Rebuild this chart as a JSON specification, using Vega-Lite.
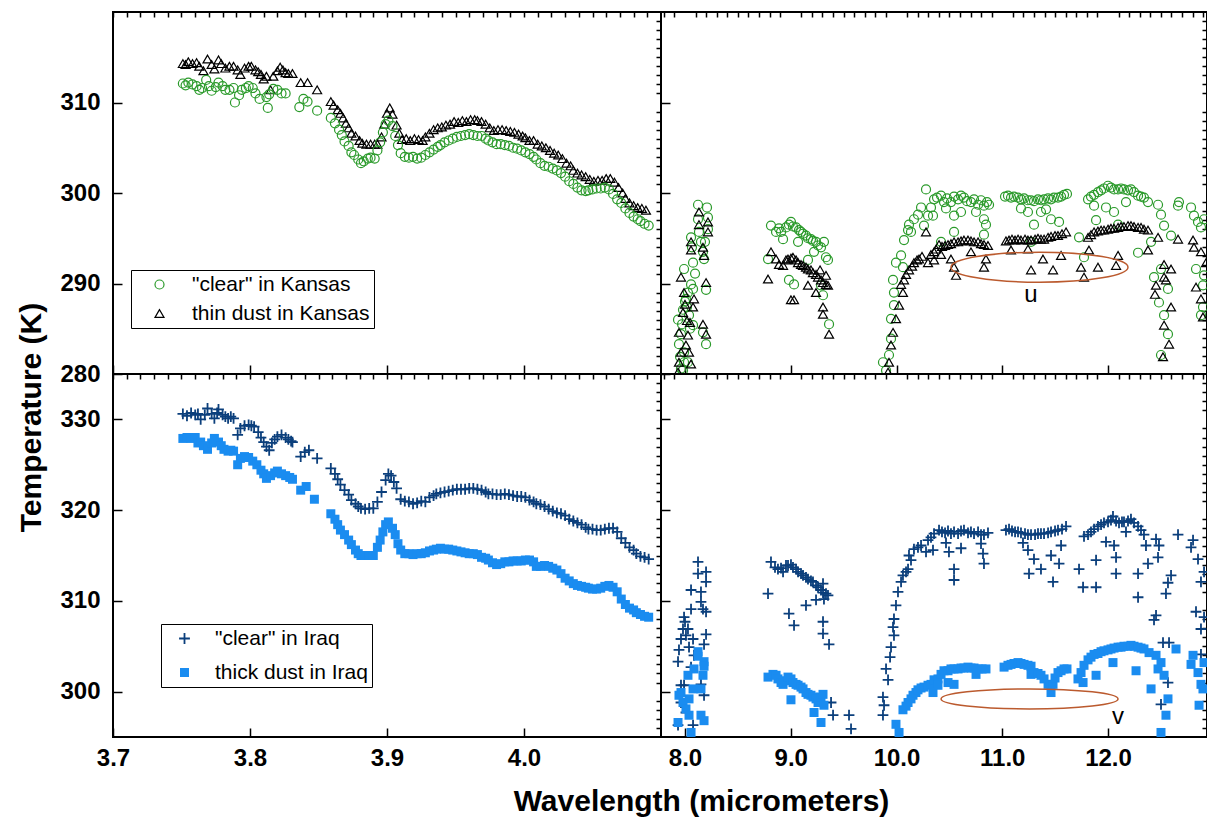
{
"$schema":"https://vega.github.io/schema/vega-lite/v6.json",
"background":"white",
"padding":{"left":15,"top":10,"right":0,"bottom":0},
"config":{
 "view":{"stroke":"#000","strokeWidth":2},
 "font":"Liberation Sans",
 "axis":{"domain":false,"grid":false,"tickColor":"#000","tickWidth":1.5,"labelFont":"Liberation Sans","labelFontSize":24,"labelFontWeight":"bold","labelColor":"#000","labelFlush":false,"labelOverlap":false,"titleFont":"Liberation Sans","titleFontSize":30,"titleFontWeight":"bold","titleColor":"#000"},
 "legend":{"labelFont":"Liberation Sans","labelFontSize":21,"labelColor":"#000","strokeColor":"#000","fillColor":"#fff","padding":4,"labelLimit":400}
},
"datasets":{
"tl":[
{"s":"d","w":3.751,"t":314.3},{"s":"d","w":3.753,"t":314.2},{"s":"d","w":3.755,"t":314.5},{"s":"d","w":3.758,"t":314.3},{"s":"d","w":3.761,"t":314.4},{"s":"d","w":3.763,"t":314.0},{"s":"d","w":3.766,"t":313.5},{"s":"d","w":3.769,"t":314.8},{"s":"d","w":3.772,"t":314.2},{"s":"d","w":3.774,"t":313.7},{"s":"d","w":3.777,"t":314.7},{"s":"d","w":3.779,"t":314.3},{"s":"d","w":3.782,"t":313.8},{"s":"d","w":3.785,"t":314.0},{"s":"d","w":3.788,"t":314.0},{"s":"d","w":3.791,"t":313.6},{"s":"d","w":3.793,"t":313.1},{"s":"d","w":3.796,"t":313.8},{"s":"d","w":3.799,"t":314.0},{"s":"d","w":3.801,"t":314.0},{"s":"d","w":3.804,"t":313.6},{"s":"d","w":3.806,"t":313.4},{"s":"d","w":3.808,"t":313.1},{"s":"d","w":3.810,"t":312.6},{"s":"d","w":3.812,"t":312.9},{"s":"d","w":3.815,"t":311.4},{"s":"d","w":3.817,"t":312.9},{"s":"d","w":3.820,"t":313.5},{"s":"d","w":3.822,"t":313.9},{"s":"d","w":3.824,"t":313.6},{"s":"d","w":3.826,"t":313.3},{"s":"d","w":3.828,"t":313.2},{"s":"d","w":3.831,"t":313.2},{"s":"d","w":3.837,"t":312.2},{"s":"d","w":3.842,"t":312.2},{"s":"d","w":3.849,"t":311.4},{"s":"d","w":3.859,"t":310.1},{"s":"d","w":3.861,"t":309.7},{"s":"d","w":3.864,"t":309.2},{"s":"d","w":3.866,"t":308.8},{"s":"d","w":3.868,"t":308.3},{"s":"d","w":3.870,"t":307.7},{"s":"d","w":3.872,"t":307.2},{"s":"d","w":3.874,"t":306.6},{"s":"d","w":3.877,"t":306.3},{"s":"d","w":3.880,"t":305.8},{"s":"d","w":3.882,"t":305.5},{"s":"d","w":3.885,"t":305.4},{"s":"d","w":3.888,"t":305.4},{"s":"d","w":3.891,"t":305.4},{"s":"d","w":3.893,"t":305.4},{"s":"d","w":3.896,"t":306.2},{"s":"d","w":3.898,"t":307.6},{"s":"d","w":3.900,"t":308.8},{"s":"d","w":3.902,"t":309.4},{"s":"d","w":3.904,"t":308.7},{"s":"d","w":3.907,"t":307.5},{"s":"d","w":3.909,"t":306.6},{"s":"d","w":3.911,"t":305.9},{"s":"d","w":3.914,"t":306.0},{"s":"d","w":3.917,"t":305.8},{"s":"d","w":3.920,"t":306.0},{"s":"d","w":3.923,"t":305.9},{"s":"d","w":3.926,"t":305.8},{"s":"d","w":3.928,"t":306.2},{"s":"d","w":3.931,"t":306.6},{"s":"d","w":3.934,"t":307.0},{"s":"d","w":3.937,"t":307.2},{"s":"d","w":3.940,"t":307.3},{"s":"d","w":3.943,"t":307.5},{"s":"d","w":3.946,"t":307.6},{"s":"d","w":3.949,"t":307.9},{"s":"d","w":3.952,"t":307.8},{"s":"d","w":3.955,"t":308.0},{"s":"d","w":3.958,"t":307.9},{"s":"d","w":3.961,"t":308.1},{"s":"d","w":3.964,"t":308.1},{"s":"d","w":3.966,"t":308.0},{"s":"d","w":3.969,"t":307.9},{"s":"d","w":3.972,"t":307.6},{"s":"d","w":3.975,"t":307.2},{"s":"d","w":3.978,"t":306.9},{"s":"d","w":3.981,"t":307.0},{"s":"d","w":3.984,"t":307.0},{"s":"d","w":3.987,"t":306.9},{"s":"d","w":3.990,"t":306.8},{"s":"d","w":3.993,"t":306.7},{"s":"d","w":3.996,"t":306.5},{"s":"d","w":3.999,"t":306.3},{"s":"d","w":4.001,"t":306.1},{"s":"d","w":4.004,"t":305.8},{"s":"d","w":4.007,"t":305.8},{"s":"d","w":4.010,"t":305.4},{"s":"d","w":4.013,"t":305.2},{"s":"d","w":4.016,"t":305.0},{"s":"d","w":4.019,"t":304.7},{"s":"d","w":4.022,"t":304.4},{"s":"d","w":4.025,"t":304.2},{"s":"d","w":4.028,"t":303.8},{"s":"d","w":4.031,"t":303.3},{"s":"d","w":4.034,"t":303.0},{"s":"d","w":4.036,"t":302.5},{"s":"d","w":4.039,"t":302.2},{"s":"d","w":4.042,"t":302.0},{"s":"d","w":4.045,"t":301.8},{"s":"d","w":4.048,"t":301.5},{"s":"d","w":4.051,"t":301.3},{"s":"d","w":4.054,"t":301.4},{"s":"d","w":4.057,"t":301.4},{"s":"d","w":4.060,"t":301.6},{"s":"d","w":4.063,"t":301.6},{"s":"d","w":4.066,"t":301.2},{"s":"d","w":4.069,"t":300.6},{"s":"d","w":4.072,"t":300.0},{"s":"d","w":4.074,"t":299.4},{"s":"d","w":4.077,"t":298.9},{"s":"d","w":4.080,"t":298.6},{"s":"d","w":4.083,"t":298.4},{"s":"d","w":4.086,"t":298.3},{"s":"d","w":4.089,"t":298.1},
{"s":"c","w":3.751,"t":312.1},{"s":"c","w":3.753,"t":311.9},{"s":"c","w":3.755,"t":312.2},{"s":"c","w":3.758,"t":312.0},{"s":"c","w":3.761,"t":311.8},{"s":"c","w":3.763,"t":311.4},{"s":"c","w":3.765,"t":311.6},{"s":"c","w":3.768,"t":312.5},{"s":"c","w":3.770,"t":311.8},{"s":"c","w":3.772,"t":311.3},{"s":"c","w":3.775,"t":311.7},{"s":"c","w":3.777,"t":312.2},{"s":"c","w":3.780,"t":311.8},{"s":"c","w":3.782,"t":311.4},{"s":"c","w":3.785,"t":311.4},{"s":"c","w":3.788,"t":311.6},{"s":"c","w":3.789,"t":310.0},{"s":"c","w":3.792,"t":310.8},{"s":"c","w":3.794,"t":311.4},{"s":"c","w":3.797,"t":311.6},{"s":"c","w":3.799,"t":311.8},{"s":"c","w":3.802,"t":311.6},{"s":"c","w":3.804,"t":311.0},{"s":"c","w":3.807,"t":310.4},{"s":"c","w":3.813,"t":309.4},{"s":"c","w":3.812,"t":310.6},{"s":"c","w":3.814,"t":310.9},{"s":"c","w":3.817,"t":311.5},{"s":"c","w":3.820,"t":311.4},{"s":"c","w":3.823,"t":311.0},{"s":"c","w":3.826,"t":311.0},{"s":"c","w":3.836,"t":309.5},{"s":"c","w":3.839,"t":310.4},{"s":"c","w":3.842,"t":310.1},{"s":"c","w":3.849,"t":309.1},{"s":"c","w":3.859,"t":308.3},{"s":"c","w":3.862,"t":307.7},{"s":"c","w":3.865,"t":307.0},{"s":"c","w":3.867,"t":306.4},{"s":"c","w":3.869,"t":305.7},{"s":"c","w":3.872,"t":305.2},{"s":"c","w":3.874,"t":304.5},{"s":"c","w":3.876,"t":304.2},{"s":"c","w":3.879,"t":303.7},{"s":"c","w":3.881,"t":303.3},{"s":"c","w":3.883,"t":303.5},{"s":"c","w":3.886,"t":303.8},{"s":"c","w":3.888,"t":303.9},{"s":"c","w":3.891,"t":303.8},{"s":"c","w":3.893,"t":304.7},{"s":"c","w":3.895,"t":305.6},{"s":"c","w":3.897,"t":306.7},{"s":"c","w":3.899,"t":307.6},{"s":"c","w":3.901,"t":308.0},{"s":"c","w":3.904,"t":307.4},{"s":"c","w":3.906,"t":306.3},{"s":"c","w":3.908,"t":305.3},{"s":"c","w":3.910,"t":304.4},{"s":"c","w":3.913,"t":304.0},{"s":"c","w":3.916,"t":303.9},{"s":"c","w":3.919,"t":304.0},{"s":"c","w":3.922,"t":303.8},{"s":"c","w":3.925,"t":303.9},{"s":"c","w":3.928,"t":304.2},{"s":"c","w":3.931,"t":304.5},{"s":"c","w":3.934,"t":304.8},{"s":"c","w":3.937,"t":305.1},{"s":"c","w":3.939,"t":305.3},{"s":"c","w":3.942,"t":305.6},{"s":"c","w":3.945,"t":305.8},{"s":"c","w":3.948,"t":306.0},{"s":"c","w":3.951,"t":306.2},{"s":"c","w":3.954,"t":306.3},{"s":"c","w":3.957,"t":306.4},{"s":"c","w":3.960,"t":306.5},{"s":"c","w":3.963,"t":306.4},{"s":"c","w":3.966,"t":306.3},{"s":"c","w":3.969,"t":306.3},{"s":"c","w":3.972,"t":306.0},{"s":"c","w":3.974,"t":305.8},{"s":"c","w":3.977,"t":305.6},{"s":"c","w":3.980,"t":305.4},{"s":"c","w":3.983,"t":305.4},{"s":"c","w":3.986,"t":305.3},{"s":"c","w":3.989,"t":305.2},{"s":"c","w":3.992,"t":305.0},{"s":"c","w":3.995,"t":304.9},{"s":"c","w":3.998,"t":304.7},{"s":"c","w":4.001,"t":304.5},{"s":"c","w":4.004,"t":304.3},{"s":"c","w":4.007,"t":304.0},{"s":"c","w":4.009,"t":303.7},{"s":"c","w":4.012,"t":303.3},{"s":"c","w":4.015,"t":303.0},{"s":"c","w":4.018,"t":302.9},{"s":"c","w":4.021,"t":302.7},{"s":"c","w":4.024,"t":302.5},{"s":"c","w":4.027,"t":302.2},{"s":"c","w":4.030,"t":301.8},{"s":"c","w":4.033,"t":301.3},{"s":"c","w":4.036,"t":301.0},{"s":"c","w":4.039,"t":300.6},{"s":"c","w":4.042,"t":300.3},{"s":"c","w":4.045,"t":300.2},{"s":"c","w":4.047,"t":300.3},{"s":"c","w":4.050,"t":300.4},{"s":"c","w":4.053,"t":300.5},{"s":"c","w":4.056,"t":300.5},{"s":"c","w":4.059,"t":300.6},{"s":"c","w":4.062,"t":300.4},{"s":"c","w":4.065,"t":299.9},{"s":"c","w":4.068,"t":299.3},{"s":"c","w":4.071,"t":298.9},{"s":"c","w":4.074,"t":298.3},{"s":"c","w":4.077,"t":297.8},{"s":"c","w":4.080,"t":297.4},{"s":"c","w":4.083,"t":297.1},{"s":"c","w":4.085,"t":296.9},{"s":"c","w":4.088,"t":296.6},{"s":"c","w":4.091,"t":296.4}
],
"bl":[
{"s":"c","w":3.751,"t":330.6},{"s":"c","w":3.754,"t":330.4},{"s":"c","w":3.757,"t":330.7},{"s":"c","w":3.760,"t":330.5},{"s":"c","w":3.762,"t":330.6},{"s":"c","w":3.764,"t":330.0},{"s":"c","w":3.767,"t":330.5},{"s":"c","w":3.769,"t":331.2},{"s":"c","w":3.772,"t":330.6},{"s":"c","w":3.774,"t":330.1},{"s":"c","w":3.776,"t":330.7},{"s":"c","w":3.777,"t":331.1},{"s":"c","w":3.780,"t":330.5},{"s":"c","w":3.782,"t":330.3},{"s":"c","w":3.784,"t":330.1},{"s":"c","w":3.786,"t":330.3},{"s":"c","w":3.788,"t":330.1},{"s":"c","w":3.791,"t":328.3},{"s":"c","w":3.793,"t":329.0},{"s":"c","w":3.796,"t":329.3},{"s":"c","w":3.799,"t":329.4},{"s":"c","w":3.801,"t":329.3},{"s":"c","w":3.803,"t":329.2},{"s":"c","w":3.806,"t":328.6},{"s":"c","w":3.808,"t":328.0},{"s":"c","w":3.810,"t":327.5},{"s":"c","w":3.812,"t":327.0},{"s":"c","w":3.814,"t":326.6},{"s":"c","w":3.816,"t":327.4},{"s":"c","w":3.818,"t":327.8},{"s":"c","w":3.820,"t":328.1},{"s":"c","w":3.823,"t":328.3},{"s":"c","w":3.826,"t":328.0},{"s":"c","w":3.828,"t":327.8},{"s":"c","w":3.830,"t":327.6},{"s":"c","w":3.831,"t":327.5},{"s":"c","w":3.837,"t":325.9},{"s":"c","w":3.840,"t":326.4},{"s":"c","w":3.843,"t":326.6},{"s":"c","w":3.849,"t":325.7},{"s":"c","w":3.859,"t":324.6},{"s":"c","w":3.862,"t":324.0},{"s":"c","w":3.864,"t":323.4},{"s":"c","w":3.866,"t":322.8},{"s":"c","w":3.869,"t":322.2},{"s":"c","w":3.872,"t":321.7},{"s":"c","w":3.874,"t":321.1},{"s":"c","w":3.877,"t":320.7},{"s":"c","w":3.879,"t":320.4},{"s":"c","w":3.881,"t":320.2},{"s":"c","w":3.884,"t":320.1},{"s":"c","w":3.887,"t":320.2},{"s":"c","w":3.890,"t":320.2},{"s":"c","w":3.893,"t":320.9},{"s":"c","w":3.896,"t":322.0},{"s":"c","w":3.899,"t":323.3},{"s":"c","w":3.901,"t":324.0},{"s":"c","w":3.903,"t":323.8},{"s":"c","w":3.905,"t":323.1},{"s":"c","w":3.907,"t":322.4},{"s":"c","w":3.910,"t":321.2},{"s":"c","w":3.913,"t":321.0},{"s":"c","w":3.916,"t":320.9},{"s":"c","w":3.919,"t":320.7},{"s":"c","w":3.922,"t":320.8},{"s":"c","w":3.925,"t":321.0},{"s":"c","w":3.928,"t":320.9},{"s":"c","w":3.931,"t":321.4},{"s":"c","w":3.934,"t":321.6},{"s":"c","w":3.936,"t":321.8},{"s":"c","w":3.939,"t":321.9},{"s":"c","w":3.942,"t":322.0},{"s":"c","w":3.945,"t":322.1},{"s":"c","w":3.948,"t":322.2},{"s":"c","w":3.951,"t":322.3},{"s":"c","w":3.954,"t":322.3},{"s":"c","w":3.957,"t":322.3},{"s":"c","w":3.960,"t":322.4},{"s":"c","w":3.963,"t":322.4},{"s":"c","w":3.966,"t":322.3},{"s":"c","w":3.969,"t":322.2},{"s":"c","w":3.972,"t":322.0},{"s":"c","w":3.974,"t":321.8},{"s":"c","w":3.977,"t":321.8},{"s":"c","w":3.980,"t":321.7},{"s":"c","w":3.983,"t":321.7},{"s":"c","w":3.986,"t":321.8},{"s":"c","w":3.989,"t":321.7},{"s":"c","w":3.992,"t":321.6},{"s":"c","w":3.995,"t":321.5},{"s":"c","w":3.998,"t":321.5},{"s":"c","w":4.001,"t":321.4},{"s":"c","w":4.004,"t":321.1},{"s":"c","w":4.007,"t":320.9},{"s":"c","w":4.009,"t":320.7},{"s":"c","w":4.012,"t":320.6},{"s":"c","w":4.015,"t":320.4},{"s":"c","w":4.018,"t":320.1},{"s":"c","w":4.021,"t":319.9},{"s":"c","w":4.024,"t":319.7},{"s":"c","w":4.027,"t":319.6},{"s":"c","w":4.030,"t":319.4},{"s":"c","w":4.033,"t":319.0},{"s":"c","w":4.036,"t":318.8},{"s":"c","w":4.039,"t":318.6},{"s":"c","w":4.042,"t":318.4},{"s":"c","w":4.045,"t":318.1},{"s":"c","w":4.047,"t":317.9},{"s":"c","w":4.050,"t":317.9},{"s":"c","w":4.053,"t":317.8},{"s":"c","w":4.056,"t":317.8},{"s":"c","w":4.059,"t":317.9},{"s":"c","w":4.062,"t":318.0},{"s":"c","w":4.065,"t":318.0},{"s":"c","w":4.068,"t":317.6},{"s":"c","w":4.071,"t":316.9},{"s":"c","w":4.074,"t":316.4},{"s":"c","w":4.077,"t":315.9},{"s":"c","w":4.080,"t":315.6},{"s":"c","w":4.082,"t":315.2},{"s":"c","w":4.085,"t":314.9},{"s":"c","w":4.088,"t":314.8},{"s":"c","w":4.091,"t":314.6},
{"s":"d","w":3.751,"t":327.9},{"s":"d","w":3.754,"t":328.0},{"s":"d","w":3.757,"t":327.9},{"s":"d","w":3.760,"t":328.0},{"s":"d","w":3.762,"t":327.4},{"s":"d","w":3.764,"t":327.5},{"s":"d","w":3.766,"t":327.1},{"s":"d","w":3.769,"t":326.7},{"s":"d","w":3.772,"t":327.4},{"s":"d","w":3.774,"t":327.9},{"s":"d","w":3.777,"t":327.5},{"s":"d","w":3.779,"t":327.1},{"s":"d","w":3.781,"t":326.7},{"s":"d","w":3.784,"t":326.5},{"s":"d","w":3.786,"t":326.6},{"s":"d","w":3.788,"t":326.5},{"s":"d","w":3.791,"t":325.0},{"s":"d","w":3.793,"t":325.7},{"s":"d","w":3.796,"t":325.9},{"s":"d","w":3.799,"t":325.8},{"s":"d","w":3.802,"t":325.4},{"s":"d","w":3.805,"t":325.0},{"s":"d","w":3.808,"t":324.4},{"s":"d","w":3.810,"t":324.0},{"s":"d","w":3.812,"t":323.5},{"s":"d","w":3.815,"t":323.8},{"s":"d","w":3.818,"t":324.1},{"s":"d","w":3.820,"t":324.3},{"s":"d","w":3.823,"t":324.0},{"s":"d","w":3.826,"t":323.8},{"s":"d","w":3.829,"t":323.6},{"s":"d","w":3.831,"t":323.4},{"s":"d","w":3.837,"t":322.2},{"s":"d","w":3.841,"t":322.6},{"s":"d","w":3.847,"t":321.2},{"s":"d","w":3.859,"t":319.6},{"s":"d","w":3.862,"t":319.0},{"s":"d","w":3.864,"t":318.4},{"s":"d","w":3.866,"t":317.8},{"s":"d","w":3.869,"t":317.3},{"s":"d","w":3.872,"t":316.7},{"s":"d","w":3.874,"t":316.2},{"s":"d","w":3.877,"t":315.6},{"s":"d","w":3.879,"t":315.2},{"s":"d","w":3.881,"t":315.0},{"s":"d","w":3.884,"t":315.0},{"s":"d","w":3.887,"t":315.0},{"s":"d","w":3.890,"t":315.0},{"s":"d","w":3.893,"t":315.9},{"s":"d","w":3.895,"t":316.7},{"s":"d","w":3.897,"t":317.6},{"s":"d","w":3.899,"t":318.4},{"s":"d","w":3.901,"t":318.7},{"s":"d","w":3.904,"t":318.0},{"s":"d","w":3.906,"t":317.3},{"s":"d","w":3.908,"t":316.3},{"s":"d","w":3.910,"t":315.6},{"s":"d","w":3.913,"t":315.2},{"s":"d","w":3.916,"t":315.2},{"s":"d","w":3.919,"t":315.1},{"s":"d","w":3.922,"t":315.2},{"s":"d","w":3.925,"t":315.2},{"s":"d","w":3.928,"t":315.3},{"s":"d","w":3.931,"t":315.5},{"s":"d","w":3.934,"t":315.6},{"s":"d","w":3.936,"t":315.7},{"s":"d","w":3.939,"t":315.8},{"s":"d","w":3.942,"t":315.7},{"s":"d","w":3.945,"t":315.7},{"s":"d","w":3.948,"t":315.6},{"s":"d","w":3.951,"t":315.5},{"s":"d","w":3.954,"t":315.4},{"s":"d","w":3.957,"t":315.3},{"s":"d","w":3.960,"t":315.2},{"s":"d","w":3.963,"t":315.2},{"s":"d","w":3.966,"t":315.1},{"s":"d","w":3.969,"t":314.8},{"s":"d","w":3.972,"t":314.7},{"s":"d","w":3.974,"t":314.5},{"s":"d","w":3.977,"t":314.2},{"s":"d","w":3.980,"t":314.0},{"s":"d","w":3.983,"t":314.1},{"s":"d","w":3.986,"t":314.3},{"s":"d","w":3.989,"t":314.3},{"s":"d","w":3.992,"t":314.4},{"s":"d","w":3.995,"t":314.4},{"s":"d","w":3.998,"t":314.4},{"s":"d","w":4.001,"t":314.5},{"s":"d","w":4.004,"t":314.5},{"s":"d","w":4.007,"t":314.3},{"s":"d","w":4.009,"t":313.8},{"s":"d","w":4.012,"t":313.8},{"s":"d","w":4.015,"t":313.9},{"s":"d","w":4.018,"t":313.8},{"s":"d","w":4.021,"t":313.6},{"s":"d","w":4.024,"t":313.4},{"s":"d","w":4.027,"t":313.0},{"s":"d","w":4.030,"t":312.5},{"s":"d","w":4.033,"t":312.2},{"s":"d","w":4.036,"t":311.9},{"s":"d","w":4.039,"t":311.7},{"s":"d","w":4.042,"t":311.6},{"s":"d","w":4.045,"t":311.5},{"s":"d","w":4.047,"t":311.4},{"s":"d","w":4.050,"t":311.3},{"s":"d","w":4.053,"t":311.3},{"s":"d","w":4.056,"t":311.4},{"s":"d","w":4.059,"t":311.6},{"s":"d","w":4.062,"t":311.7},{"s":"d","w":4.065,"t":311.5},{"s":"d","w":4.068,"t":311.0},{"s":"d","w":4.071,"t":310.2},{"s":"d","w":4.074,"t":309.6},{"s":"d","w":4.077,"t":309.2},{"s":"d","w":4.080,"t":309.0},{"s":"d","w":4.082,"t":308.7},{"s":"d","w":4.085,"t":308.5},{"s":"d","w":4.088,"t":308.3},{"s":"d","w":4.091,"t":308.2}
],
"tr":[
{"s":"c","w":7.962,"t":280.6},{"s":"c","w":7.943,"t":283.3},{"s":"c","w":7.991,"t":282.4},{"s":"c","w":7.934,"t":286.0},{"s":"c","w":7.981,"t":287.1},{"s":"c","w":8.009,"t":288.3},{"s":"c","w":7.991,"t":291.6},{"s":"c","w":8.057,"t":289.9},{"s":"c","w":8.076,"t":289.4},{"s":"c","w":8.028,"t":289.0},{"s":"c","w":8.038,"t":286.5},{"s":"c","w":8.076,"t":285.4},{"s":"c","w":8.028,"t":281.3},{"s":"c","w":8.057,"t":295.1},{"s":"c","w":8.076,"t":292.3},{"s":"c","w":8.123,"t":298.7},{"s":"c","w":8.123,"t":297.1},{"s":"c","w":8.151,"t":294.6},{"s":"c","w":8.170,"t":293.5},{"s":"c","w":8.180,"t":292.7},{"s":"c","w":8.217,"t":297.3},{"s":"c","w":8.217,"t":296.0},{"s":"c","w":8.199,"t":289.3},{"s":"c","w":8.170,"t":284.6},{"s":"c","w":8.199,"t":283.3},{"s":"c","w":7.962,"t":284.4},{"s":"c","w":7.991,"t":281.3},{"s":"c","w":7.981,"t":280.4},{"s":"c","w":8.000,"t":288.0},{"s":"c","w":8.019,"t":287.4},{"s":"c","w":7.972,"t":285.5},{"s":"c","w":8.047,"t":285.0},{"s":"c","w":7.953,"t":281.9},{"s":"c","w":8.095,"t":291.1},{"s":"c","w":8.066,"t":294.0},{"s":"c","w":8.132,"t":295.7},{"s":"c","w":8.189,"t":294.6},{"s":"c","w":8.208,"t":298.4},
{"s":"c","w":8.785,"t":292.7},{"s":"c","w":8.813,"t":296.4},{"s":"c","w":8.861,"t":295.7},{"s":"c","w":8.889,"t":296.1},{"s":"c","w":8.908,"t":295.7},{"s":"c","w":8.927,"t":294.9},{"s":"c","w":8.955,"t":296.2},{"s":"c","w":8.983,"t":296.5},{"s":"c","w":9.002,"t":296.8},{"s":"c","w":9.021,"t":296.3},{"s":"c","w":9.050,"t":296.2},{"s":"c","w":9.078,"t":295.9},{"s":"c","w":9.097,"t":295.7},{"s":"c","w":9.116,"t":295.5},{"s":"c","w":9.144,"t":295.3},{"s":"c","w":9.163,"t":295.0},{"s":"c","w":9.191,"t":294.9},{"s":"c","w":9.210,"t":294.7},{"s":"c","w":9.239,"t":294.6},{"s":"c","w":9.258,"t":294.2},{"s":"c","w":9.286,"t":294.0},{"s":"c","w":9.314,"t":294.6},{"s":"c","w":9.333,"t":292.9},{"s":"c","w":9.352,"t":292.6},{"s":"c","w":8.983,"t":290.4},{"s":"c","w":9.031,"t":289.9},{"s":"c","w":9.163,"t":292.6},{"s":"c","w":9.286,"t":289.8},{"s":"c","w":9.305,"t":288.7},{"s":"c","w":9.362,"t":285.5},{"s":"c","w":9.220,"t":293.5},{"s":"c","w":9.069,"t":294.6},
{"s":"c","w":9.901,"t":280.4},{"s":"c","w":9.929,"t":282.1},{"s":"c","w":9.948,"t":283.9},{"s":"c","w":9.948,"t":286.1},{"s":"c","w":9.976,"t":287.6},{"s":"c","w":9.976,"t":289.0},{"s":"c","w":9.967,"t":290.4},{"s":"c","w":9.995,"t":292.3},{"s":"c","w":10.043,"t":293.1},{"s":"c","w":10.061,"t":291.8},{"s":"c","w":10.071,"t":294.8},{"s":"c","w":10.109,"t":295.9},{"s":"c","w":10.118,"t":296.5},{"s":"c","w":10.165,"t":297.1},{"s":"c","w":10.203,"t":297.6},{"s":"c","w":10.260,"t":296.4},{"s":"c","w":10.279,"t":300.4},{"s":"c","w":10.298,"t":297.5},{"s":"c","w":10.326,"t":298.4},{"s":"c","w":10.355,"t":299.3},{"s":"c","w":9.872,"t":281.3},{"s":"c","w":10.137,"t":295.7},{"s":"c","w":10.232,"t":298.4},
{"s":"c","w":10.383,"t":299.5},{"s":"c","w":10.421,"t":299.7},{"s":"c","w":10.449,"t":299.0},{"s":"c","w":10.478,"t":299.4},{"s":"c","w":10.515,"t":299.0},{"s":"c","w":10.544,"t":299.6},{"s":"c","w":10.582,"t":299.3},{"s":"c","w":10.610,"t":299.7},{"s":"c","w":10.638,"t":299.5},{"s":"c","w":10.667,"t":299.1},{"s":"c","w":10.704,"t":299.0},{"s":"c","w":10.733,"t":299.3},{"s":"c","w":10.771,"t":298.7},{"s":"c","w":10.799,"t":299.2},{"s":"c","w":10.827,"t":298.6},{"s":"c","w":10.856,"t":299.0},{"s":"c","w":10.875,"t":298.7},{"s":"c","w":10.345,"t":297.5},{"s":"c","w":10.544,"t":297.5},{"s":"c","w":10.544,"t":295.7},{"s":"c","w":10.421,"t":294.6},{"s":"c","w":10.827,"t":297.1},{"s":"c","w":10.827,"t":295.4},{"s":"c","w":10.846,"t":296.5},{"s":"c","w":10.610,"t":297.9},{"s":"c","w":10.468,"t":298.3},{"s":"c","w":10.752,"t":297.9},
{"s":"c","w":11.026,"t":299.6},{"s":"c","w":11.054,"t":299.7},{"s":"c","w":11.083,"t":299.5},{"s":"c","w":11.111,"t":299.6},{"s":"c","w":11.149,"t":299.5},{"s":"c","w":11.177,"t":299.3},{"s":"c","w":11.206,"t":299.4},{"s":"c","w":11.243,"t":299.2},{"s":"c","w":11.272,"t":299.2},{"s":"c","w":11.300,"t":299.1},{"s":"c","w":11.338,"t":299.3},{"s":"c","w":11.366,"t":299.2},{"s":"c","w":11.395,"t":299.3},{"s":"c","w":11.433,"t":299.4},{"s":"c","w":11.461,"t":299.3},{"s":"c","w":11.489,"t":299.5},{"s":"c","w":11.527,"t":299.5},{"s":"c","w":11.556,"t":299.6},{"s":"c","w":11.584,"t":299.8},{"s":"c","w":11.612,"t":299.9},{"s":"c","w":11.243,"t":297.9},{"s":"c","w":11.300,"t":296.5},{"s":"c","w":11.366,"t":297.9},{"s":"c","w":11.461,"t":297.1},{"s":"c","w":11.537,"t":296.8},{"s":"c","w":11.272,"t":294.6},{"s":"c","w":11.177,"t":298.3},{"s":"c","w":11.414,"t":298.2},{"s":"c","w":11.726,"t":295.1},{"s":"c","w":11.773,"t":292.9},
{"s":"c","w":11.811,"t":299.3},{"s":"c","w":11.839,"t":299.6},{"s":"c","w":11.868,"t":299.8},{"s":"c","w":11.905,"t":300.1},{"s":"c","w":11.934,"t":300.3},{"s":"c","w":11.962,"t":300.5},{"s":"c","w":12.000,"t":300.8},{"s":"c","w":12.028,"t":300.6},{"s":"c","w":12.057,"t":300.4},{"s":"c","w":12.095,"t":300.4},{"s":"c","w":12.123,"t":300.5},{"s":"c","w":12.151,"t":300.4},{"s":"c","w":12.189,"t":300.3},{"s":"c","w":12.217,"t":300.4},{"s":"c","w":12.246,"t":300.1},{"s":"c","w":12.284,"t":299.7},{"s":"c","w":12.312,"t":299.6},{"s":"c","w":12.340,"t":299.5},{"s":"c","w":12.378,"t":299.0},{"s":"c","w":11.868,"t":298.6},{"s":"c","w":11.887,"t":297.0},{"s":"c","w":12.057,"t":297.9},{"s":"c","w":12.095,"t":296.5},{"s":"c","w":12.473,"t":298.7},{"s":"c","w":12.501,"t":297.6},{"s":"c","w":12.530,"t":296.4},{"s":"c","w":12.596,"t":295.3},{"s":"c","w":12.662,"t":298.6},{"s":"c","w":12.671,"t":299.0},{"s":"c","w":11.981,"t":298.4},{"s":"c","w":12.170,"t":299.0},
{"s":"c","w":12.284,"t":293.4},{"s":"c","w":12.435,"t":290.7},{"s":"c","w":12.501,"t":291.6},{"s":"c","w":12.567,"t":289.4},{"s":"c","w":12.530,"t":286.5},{"s":"c","w":12.567,"t":284.4},{"s":"c","w":12.501,"t":282.1},{"s":"c","w":12.482,"t":287.9},{"s":"c","w":12.407,"t":294.6},{"s":"c","w":12.813,"t":297.5},{"s":"c","w":12.851,"t":296.8},{"s":"c","w":12.908,"t":297.1},{"s":"c","w":12.832,"t":291.6},{"s":"c","w":12.898,"t":289.8},{"s":"c","w":12.898,"t":287.4},{"s":"c","w":12.879,"t":286.5},{"s":"c","w":12.908,"t":290.9},{"s":"c","w":12.785,"t":298.4},{"s":"c","w":12.879,"t":296.2},
{"s":"d","w":7.943,"t":281.3},{"s":"d","w":7.962,"t":282.4},{"s":"d","w":7.943,"t":284.6},{"s":"d","w":7.981,"t":286.8},{"s":"d","w":7.991,"t":289.0},{"s":"d","w":7.962,"t":290.7},{"s":"d","w":8.057,"t":294.6},{"s":"d","w":8.057,"t":293.7},{"s":"d","w":8.085,"t":288.3},{"s":"d","w":8.076,"t":287.4},{"s":"d","w":8.028,"t":284.3},{"s":"d","w":8.038,"t":282.4},{"s":"d","w":8.057,"t":281.1},{"s":"d","w":8.132,"t":297.9},{"s":"d","w":8.132,"t":296.5},{"s":"d","w":8.170,"t":294.0},{"s":"d","w":8.180,"t":293.1},{"s":"d","w":8.217,"t":296.8},{"s":"d","w":8.217,"t":295.7},{"s":"d","w":8.199,"t":290.1},{"s":"d","w":8.170,"t":285.5},{"s":"d","w":8.199,"t":284.4},{"s":"d","w":7.934,"t":280.2},{"s":"d","w":8.009,"t":283.2},{"s":"d","w":8.019,"t":285.9},{"s":"d","w":8.000,"t":287.7},{"s":"d","w":8.047,"t":285.7},
{"s":"d","w":8.785,"t":290.5},{"s":"d","w":8.813,"t":293.5},{"s":"d","w":8.861,"t":292.7},{"s":"d","w":8.889,"t":292.1},{"s":"d","w":8.927,"t":292.0},{"s":"d","w":8.955,"t":292.6},{"s":"d","w":8.974,"t":292.7},{"s":"d","w":9.002,"t":292.8},{"s":"d","w":9.021,"t":292.9},{"s":"d","w":9.050,"t":292.6},{"s":"d","w":9.069,"t":292.3},{"s":"d","w":9.097,"t":292.1},{"s":"d","w":9.116,"t":292.0},{"s":"d","w":9.144,"t":291.8},{"s":"d","w":9.163,"t":291.6},{"s":"d","w":9.191,"t":291.5},{"s":"d","w":9.210,"t":291.2},{"s":"d","w":9.239,"t":291.0},{"s":"d","w":9.258,"t":290.7},{"s":"d","w":9.286,"t":290.4},{"s":"d","w":9.305,"t":290.1},{"s":"d","w":9.333,"t":289.9},{"s":"d","w":9.352,"t":289.8},{"s":"d","w":9.333,"t":290.9},{"s":"d","w":9.002,"t":288.2},{"s":"d","w":9.031,"t":288.2},{"s":"d","w":9.163,"t":289.8},{"s":"d","w":9.239,"t":289.0},{"s":"d","w":9.305,"t":287.4},{"s":"d","w":9.305,"t":286.6},{"s":"d","w":9.362,"t":284.4},{"s":"d","w":9.277,"t":291.5},
{"s":"d","w":9.920,"t":280.2},{"s":"d","w":9.929,"t":281.3},{"s":"d","w":9.948,"t":283.2},{"s":"d","w":9.967,"t":284.6},{"s":"d","w":9.995,"t":286.1},{"s":"d","w":10.024,"t":287.6},{"s":"d","w":10.061,"t":289.0},{"s":"d","w":10.071,"t":290.4},{"s":"d","w":10.090,"t":291.0},{"s":"d","w":10.118,"t":291.5},{"s":"d","w":10.147,"t":291.9},{"s":"d","w":10.165,"t":292.3},{"s":"d","w":10.194,"t":292.6},{"s":"d","w":10.213,"t":292.7},{"s":"d","w":10.241,"t":293.0},{"s":"d","w":10.279,"t":295.7},{"s":"d","w":10.298,"t":292.3},{"s":"d","w":10.326,"t":293.2},{"s":"d","w":10.355,"t":293.5},{"s":"d","w":10.374,"t":293.8},{"s":"d","w":10.402,"t":294.3},{"s":"d","w":10.043,"t":289.9},
{"s":"d","w":10.430,"t":294.1},{"s":"d","w":10.459,"t":294.2},{"s":"d","w":10.487,"t":294.3},{"s":"d","w":10.515,"t":294.4},{"s":"d","w":10.544,"t":294.6},{"s":"d","w":10.582,"t":294.6},{"s":"d","w":10.610,"t":294.7},{"s":"d","w":10.638,"t":294.8},{"s":"d","w":10.676,"t":294.8},{"s":"d","w":10.704,"t":294.7},{"s":"d","w":10.733,"t":294.6},{"s":"d","w":10.771,"t":294.6},{"s":"d","w":10.799,"t":294.4},{"s":"d","w":10.827,"t":294.3},{"s":"d","w":10.865,"t":294.2},{"s":"d","w":10.355,"t":292.6},{"s":"d","w":10.515,"t":292.7},{"s":"d","w":10.544,"t":291.8},{"s":"d","w":10.563,"t":290.9},{"s":"d","w":10.827,"t":291.8},{"s":"d","w":10.846,"t":292.7},{"s":"d","w":10.421,"t":293.2},{"s":"d","w":10.704,"t":293.5},
{"s":"d","w":11.035,"t":294.7},{"s":"d","w":11.064,"t":294.8},{"s":"d","w":11.092,"t":294.9},{"s":"d","w":11.121,"t":294.8},{"s":"d","w":11.149,"t":294.9},{"s":"d","w":11.177,"t":294.8},{"s":"d","w":11.215,"t":294.9},{"s":"d","w":11.243,"t":294.8},{"s":"d","w":11.272,"t":294.8},{"s":"d","w":11.310,"t":294.9},{"s":"d","w":11.338,"t":295.0},{"s":"d","w":11.366,"t":294.9},{"s":"d","w":11.395,"t":294.9},{"s":"d","w":11.433,"t":295.1},{"s":"d","w":11.461,"t":295.2},{"s":"d","w":11.499,"t":295.3},{"s":"d","w":11.527,"t":295.3},{"s":"d","w":11.565,"t":295.5},{"s":"d","w":11.603,"t":295.7},{"s":"d","w":11.272,"t":291.5},{"s":"d","w":11.385,"t":292.7},{"s":"d","w":11.480,"t":291.5},{"s":"d","w":11.556,"t":293.1},{"s":"d","w":11.243,"t":293.8},{"s":"d","w":11.083,"t":293.7},
{"s":"d","w":11.811,"t":295.1},{"s":"d","w":11.839,"t":295.4},{"s":"d","w":11.868,"t":295.7},{"s":"d","w":11.905,"t":295.8},{"s":"d","w":11.934,"t":295.9},{"s":"d","w":11.962,"t":295.9},{"s":"d","w":12.000,"t":296.0},{"s":"d","w":12.028,"t":296.1},{"s":"d","w":12.057,"t":296.1},{"s":"d","w":12.095,"t":296.2},{"s":"d","w":12.123,"t":296.3},{"s":"d","w":12.151,"t":296.3},{"s":"d","w":12.189,"t":296.4},{"s":"d","w":12.217,"t":296.4},{"s":"d","w":12.246,"t":296.3},{"s":"d","w":12.284,"t":296.2},{"s":"d","w":12.312,"t":296.2},{"s":"d","w":12.340,"t":296.0},{"s":"d","w":12.378,"t":295.9},{"s":"d","w":11.745,"t":291.8},{"s":"d","w":11.773,"t":290.7},{"s":"d","w":11.820,"t":293.7},{"s":"d","w":11.905,"t":291.8},{"s":"d","w":12.076,"t":292.0},{"s":"d","w":12.095,"t":293.1},
{"s":"d","w":12.473,"t":295.1},{"s":"d","w":12.378,"t":293.7},{"s":"d","w":12.530,"t":292.1},{"s":"d","w":12.596,"t":291.6},{"s":"d","w":12.530,"t":290.7},{"s":"d","w":12.548,"t":290.4},{"s":"d","w":12.454,"t":289.8},{"s":"d","w":12.444,"t":288.8},{"s":"d","w":12.596,"t":287.4},{"s":"d","w":12.530,"t":285.4},{"s":"d","w":12.577,"t":283.3},{"s":"d","w":12.520,"t":281.9},{"s":"d","w":12.662,"t":294.9},{"s":"d","w":12.804,"t":294.8},{"s":"d","w":12.813,"t":294.0},{"s":"d","w":12.879,"t":293.5},{"s":"d","w":12.832,"t":289.6},{"s":"d","w":12.879,"t":288.3},{"s":"d","w":12.898,"t":286.3},{"s":"d","w":12.927,"t":292.3}
],
"br":[
{"s":"c","w":7.934,"t":303.3},{"s":"c","w":7.943,"t":304.6},{"s":"c","w":7.962,"t":305.8},{"s":"c","w":7.981,"t":306.9},{"s":"c","w":7.991,"t":308.2},{"s":"c","w":8.028,"t":306.9},{"s":"c","w":7.962,"t":300.7},{"s":"c","w":7.991,"t":300.7},{"s":"c","w":7.962,"t":298.8},{"s":"c","w":8.009,"t":297.7},{"s":"c","w":7.934,"t":296.3},{"s":"c","w":8.076,"t":296.3},{"s":"c","w":8.009,"t":306.2},{"s":"c","w":8.076,"t":305.8},{"s":"c","w":8.057,"t":311.2},{"s":"c","w":8.057,"t":309.1},{"s":"c","w":8.123,"t":314.3},{"s":"c","w":8.123,"t":313.0},{"s":"c","w":8.199,"t":313.2},{"s":"c","w":8.199,"t":312.1},{"s":"c","w":8.151,"t":311.0},{"s":"c","w":8.151,"t":309.9},{"s":"c","w":8.170,"t":309.1},{"s":"c","w":8.199,"t":308.8},{"s":"c","w":8.199,"t":306.3},{"s":"c","w":8.180,"t":305.2},{"s":"c","w":8.151,"t":300.8},{"s":"c","w":8.180,"t":299.6},{"s":"c","w":8.085,"t":304.0},{"s":"c","w":8.057,"t":302.7},{"s":"c","w":8.000,"t":307.7},{"s":"c","w":8.038,"t":304.9},
{"s":"c","w":8.785,"t":310.8},{"s":"c","w":8.813,"t":314.3},{"s":"c","w":8.851,"t":313.7},{"s":"c","w":8.879,"t":313.5},{"s":"c","w":8.908,"t":313.6},{"s":"c","w":8.927,"t":313.2},{"s":"c","w":8.955,"t":313.9},{"s":"c","w":8.974,"t":313.9},{"s":"c","w":9.002,"t":314.0},{"s":"c","w":9.021,"t":313.7},{"s":"c","w":9.050,"t":313.5},{"s":"c","w":9.069,"t":313.2},{"s":"c","w":9.097,"t":313.0},{"s":"c","w":9.116,"t":312.8},{"s":"c","w":9.144,"t":312.6},{"s":"c","w":9.163,"t":312.4},{"s":"c","w":9.191,"t":312.2},{"s":"c","w":9.210,"t":312.1},{"s":"c","w":9.239,"t":311.7},{"s":"c","w":9.258,"t":311.5},{"s":"c","w":9.286,"t":311.2},{"s":"c","w":9.305,"t":310.9},{"s":"c","w":9.333,"t":310.8},{"s":"c","w":9.352,"t":310.6},{"s":"c","w":9.314,"t":310.2},{"s":"c","w":8.983,"t":308.6},{"s":"c","w":9.031,"t":307.3},{"s":"c","w":9.144,"t":309.5},{"s":"c","w":9.239,"t":310.1},{"s":"c","w":9.305,"t":311.9},{"s":"c","w":9.305,"t":307.7},{"s":"c","w":9.305,"t":306.4},{"s":"c","w":9.362,"t":305.2},{"s":"c","w":9.381,"t":298.8},{"s":"c","w":9.400,"t":297.4},{"s":"c","w":9.551,"t":297.4},{"s":"c","w":9.570,"t":295.9},
{"s":"c","w":9.872,"t":297.4},{"s":"c","w":9.872,"t":299.4},{"s":"c","w":9.882,"t":298.5},{"s":"c","w":9.901,"t":302.5},{"s":"c","w":9.920,"t":301.3},{"s":"c","w":9.939,"t":303.8},{"s":"c","w":9.948,"t":304.9},{"s":"c","w":9.976,"t":306.2},{"s":"c","w":9.967,"t":307.1},{"s":"c","w":9.976,"t":308.0},{"s":"c","w":9.995,"t":309.5},{"s":"c","w":10.014,"t":311.0},{"s":"c","w":10.043,"t":312.1},{"s":"c","w":10.061,"t":312.8},{"s":"c","w":10.090,"t":313.2},{"s":"c","w":10.109,"t":313.5},{"s":"c","w":10.118,"t":315.0},{"s":"c","w":10.137,"t":314.5},{"s":"c","w":10.165,"t":315.7},{"s":"c","w":10.203,"t":315.9},{"s":"c","w":10.232,"t":316.1},{"s":"c","w":10.279,"t":315.4},{"s":"c","w":10.298,"t":316.7},{"s":"c","w":10.326,"t":317.0},{"s":"c","w":10.355,"t":317.4},{"s":"c","w":10.402,"t":317.8},
{"s":"c","w":10.430,"t":317.6},{"s":"c","w":10.459,"t":317.5},{"s":"c","w":10.487,"t":317.7},{"s":"c","w":10.515,"t":317.4},{"s":"c","w":10.544,"t":317.6},{"s":"c","w":10.582,"t":317.4},{"s":"c","w":10.610,"t":317.7},{"s":"c","w":10.638,"t":317.8},{"s":"c","w":10.676,"t":317.5},{"s":"c","w":10.704,"t":317.6},{"s":"c","w":10.733,"t":317.4},{"s":"c","w":10.771,"t":317.6},{"s":"c","w":10.799,"t":317.3},{"s":"c","w":10.827,"t":317.3},{"s":"c","w":10.865,"t":317.5},{"s":"c","w":10.345,"t":315.6},{"s":"c","w":10.496,"t":315.4},{"s":"c","w":10.544,"t":313.5},{"s":"c","w":10.544,"t":312.3},{"s":"c","w":10.818,"t":315.2},{"s":"c","w":10.827,"t":314.1},{"s":"c","w":10.799,"t":316.3},{"s":"c","w":10.468,"t":316.4},{"s":"c","w":10.610,"t":315.8},
{"s":"c","w":11.035,"t":317.8},{"s":"c","w":11.064,"t":317.9},{"s":"c","w":11.092,"t":317.7},{"s":"c","w":11.121,"t":317.6},{"s":"c","w":11.149,"t":317.6},{"s":"c","w":11.177,"t":317.5},{"s":"c","w":11.215,"t":317.4},{"s":"c","w":11.243,"t":317.3},{"s":"c","w":11.272,"t":317.3},{"s":"c","w":11.310,"t":317.3},{"s":"c","w":11.338,"t":317.4},{"s":"c","w":11.366,"t":317.4},{"s":"c","w":11.395,"t":317.4},{"s":"c","w":11.433,"t":317.5},{"s":"c","w":11.461,"t":317.6},{"s":"c","w":11.499,"t":317.7},{"s":"c","w":11.527,"t":317.8},{"s":"c","w":11.565,"t":317.9},{"s":"c","w":11.603,"t":318.2},{"s":"c","w":11.243,"t":315.6},{"s":"c","w":11.300,"t":314.6},{"s":"c","w":11.253,"t":313.0},{"s":"c","w":11.366,"t":313.5},{"s":"c","w":11.461,"t":315.0},{"s":"c","w":11.480,"t":312.1},{"s":"c","w":11.537,"t":314.1},{"s":"c","w":11.556,"t":316.1},{"s":"c","w":11.196,"t":316.4},
{"s":"c","w":11.773,"t":317.1},{"s":"c","w":11.811,"t":317.3},{"s":"c","w":11.839,"t":317.6},{"s":"c","w":11.868,"t":317.9},{"s":"c","w":11.905,"t":318.2},{"s":"c","w":11.934,"t":318.4},{"s":"c","w":11.962,"t":318.6},{"s":"c","w":12.000,"t":318.7},{"s":"c","w":12.028,"t":318.9},{"s":"c","w":12.047,"t":319.3},{"s":"c","w":12.076,"t":318.8},{"s":"c","w":12.104,"t":318.6},{"s":"c","w":12.132,"t":318.7},{"s":"c","w":12.151,"t":318.7},{"s":"c","w":12.189,"t":318.8},{"s":"c","w":12.217,"t":319.0},{"s":"c","w":12.246,"t":318.6},{"s":"c","w":12.284,"t":318.2},{"s":"c","w":12.312,"t":317.8},{"s":"c","w":12.340,"t":317.3},{"s":"c","w":11.726,"t":313.5},{"s":"c","w":11.764,"t":311.5},{"s":"c","w":11.887,"t":311.5},{"s":"c","w":11.887,"t":314.5},{"s":"c","w":12.057,"t":316.1},{"s":"c","w":12.076,"t":314.8},{"s":"c","w":12.076,"t":313.0},{"s":"c","w":12.284,"t":313.0},{"s":"c","w":12.359,"t":316.1},{"s":"c","w":12.378,"t":314.1},{"s":"c","w":12.454,"t":316.8},{"s":"c","w":12.482,"t":316.1},{"s":"c","w":12.473,"t":314.8},{"s":"c","w":12.284,"t":310.4},{"s":"c","w":12.454,"t":308.4},{"s":"c","w":12.435,"t":307.9},{"s":"c","w":12.548,"t":310.8},{"s":"c","w":12.596,"t":312.8},{"s":"c","w":12.567,"t":312.0},{"s":"c","w":12.520,"t":305.4},{"s":"c","w":12.577,"t":305.4},{"s":"c","w":12.567,"t":301.0},{"s":"c","w":12.501,"t":298.6},{"s":"c","w":12.662,"t":317.3},{"s":"c","w":12.804,"t":316.7},{"s":"c","w":12.785,"t":315.9},{"s":"c","w":12.851,"t":314.6},{"s":"c","w":12.879,"t":312.1},{"s":"c","w":12.908,"t":313.2},{"s":"c","w":12.832,"t":308.8},{"s":"c","w":12.879,"t":306.9},{"s":"c","w":12.908,"t":308.2},{"s":"c","w":12.879,"t":304.1},{"s":"c","w":12.170,"t":317.6},{"s":"c","w":11.981,"t":316.5},
{"s":"d","w":7.934,"t":296.6},{"s":"d","w":8.057,"t":295.5},{"s":"d","w":8.038,"t":297.4},{"s":"d","w":8.123,"t":304.4},{"s":"d","w":8.180,"t":303.3},{"s":"d","w":8.170,"t":301.8},{"s":"d","w":8.151,"t":300.3},{"s":"d","w":8.076,"t":300.3},{"s":"d","w":8.038,"t":299.2},{"s":"d","w":7.981,"t":298.8},{"s":"d","w":7.962,"t":299.9},{"s":"d","w":8.009,"t":298.1},{"s":"d","w":8.151,"t":297.4},{"s":"d","w":8.180,"t":296.8},{"s":"d","w":8.085,"t":302.5},{"s":"d","w":8.028,"t":301.8},{"s":"d","w":7.943,"t":299.6},{"s":"d","w":8.180,"t":302.8},{"s":"d","w":8.123,"t":303.9},
{"s":"d","w":8.785,"t":301.6},{"s":"d","w":8.832,"t":301.9},{"s":"d","w":8.861,"t":301.8},{"s":"d","w":8.879,"t":301.4},{"s":"d","w":8.908,"t":301.0},{"s":"d","w":8.927,"t":300.8},{"s":"d","w":8.955,"t":301.2},{"s":"d","w":8.974,"t":301.6},{"s":"d","w":9.002,"t":301.4},{"s":"d","w":9.021,"t":301.0},{"s":"d","w":9.050,"t":300.8},{"s":"d","w":9.069,"t":300.7},{"s":"d","w":9.097,"t":300.5},{"s":"d","w":9.116,"t":300.3},{"s":"d","w":9.144,"t":299.9},{"s":"d","w":9.163,"t":299.7},{"s":"d","w":9.191,"t":299.6},{"s":"d","w":9.210,"t":299.4},{"s":"d","w":9.239,"t":299.2},{"s":"d","w":9.258,"t":298.8},{"s":"d","w":9.286,"t":299.4},{"s":"d","w":9.305,"t":299.7},{"s":"d","w":9.314,"t":298.5},{"s":"d","w":9.286,"t":296.6},{"s":"d","w":9.220,"t":297.7},{"s":"d","w":9.002,"t":299.1},
{"s":"d","w":9.995,"t":296.4},{"s":"d","w":10.024,"t":295.5},{"s":"d","w":10.061,"t":298.0},{"s":"d","w":10.090,"t":298.4},{"s":"d","w":10.109,"t":298.8},{"s":"d","w":10.137,"t":299.2},{"s":"d","w":10.156,"t":299.6},{"s":"d","w":10.184,"t":299.9},{"s":"d","w":10.203,"t":300.2},{"s":"d","w":10.232,"t":300.4},{"s":"d","w":10.260,"t":300.5},{"s":"d","w":10.298,"t":300.7},{"s":"d","w":10.326,"t":300.8},{"s":"d","w":10.355,"t":301.3},{"s":"d","w":10.392,"t":301.4},{"s":"d","w":10.421,"t":301.9},{"s":"d","w":10.449,"t":302.3},{"s":"d","w":10.487,"t":302.3},{"s":"d","w":10.515,"t":302.5},{"s":"d","w":10.544,"t":302.5},{"s":"d","w":10.582,"t":302.5},{"s":"d","w":10.610,"t":302.6},{"s":"d","w":10.638,"t":302.6},{"s":"d","w":10.676,"t":302.7},{"s":"d","w":10.704,"t":302.6},{"s":"d","w":10.733,"t":302.6},{"s":"d","w":10.771,"t":302.5},{"s":"d","w":10.809,"t":302.5},{"s":"d","w":10.846,"t":302.5},{"s":"d","w":10.487,"t":301.0},{"s":"d","w":10.544,"t":300.8},{"s":"d","w":10.392,"t":300.7},{"s":"d","w":10.345,"t":299.9},{"s":"d","w":10.752,"t":301.9},
{"s":"d","w":11.017,"t":302.7},{"s":"d","w":11.054,"t":302.9},{"s":"d","w":11.083,"t":303.0},{"s":"d","w":11.111,"t":303.1},{"s":"d","w":11.149,"t":303.2},{"s":"d","w":11.177,"t":303.1},{"s":"d","w":11.206,"t":303.0},{"s":"d","w":11.243,"t":302.9},{"s":"d","w":11.272,"t":301.9},{"s":"d","w":11.300,"t":302.1},{"s":"d","w":11.338,"t":302.0},{"s":"d","w":11.366,"t":301.8},{"s":"d","w":11.395,"t":301.4},{"s":"d","w":11.433,"t":300.8},{"s":"d","w":11.461,"t":299.9},{"s":"d","w":11.480,"t":300.8},{"s":"d","w":11.499,"t":301.5},{"s":"d","w":11.527,"t":302.1},{"s":"d","w":11.556,"t":302.3},{"s":"d","w":11.584,"t":302.5},{"s":"d","w":11.612,"t":302.5},{"s":"d","w":11.272,"t":302.8},
{"s":"d","w":11.716,"t":301.4},{"s":"d","w":11.745,"t":302.1},{"s":"d","w":11.773,"t":302.9},{"s":"d","w":11.811,"t":303.5},{"s":"d","w":11.839,"t":303.8},{"s":"d","w":11.868,"t":304.1},{"s":"d","w":11.905,"t":304.2},{"s":"d","w":11.934,"t":304.4},{"s":"d","w":11.962,"t":304.5},{"s":"d","w":12.000,"t":304.6},{"s":"d","w":12.028,"t":304.7},{"s":"d","w":12.057,"t":304.8},{"s":"d","w":12.095,"t":304.9},{"s":"d","w":12.123,"t":304.9},{"s":"d","w":12.151,"t":305.0},{"s":"d","w":12.189,"t":305.0},{"s":"d","w":12.217,"t":305.1},{"s":"d","w":12.246,"t":305.0},{"s":"d","w":12.284,"t":304.9},{"s":"d","w":12.312,"t":304.8},{"s":"d","w":12.340,"t":304.7},{"s":"d","w":11.764,"t":301.0},{"s":"d","w":11.887,"t":301.8},{"s":"d","w":12.047,"t":303.2},{"s":"d","w":12.265,"t":302.3},{"s":"d","w":12.407,"t":300.3},{"s":"d","w":12.454,"t":304.0},{"s":"d","w":12.473,"t":302.5},{"s":"d","w":12.530,"t":301.8},{"s":"d","w":12.567,"t":299.2},{"s":"d","w":12.548,"t":297.4},{"s":"d","w":12.501,"t":295.5},{"s":"d","w":12.643,"t":304.7},{"s":"d","w":12.804,"t":304.0},{"s":"d","w":12.785,"t":303.0},{"s":"d","w":12.851,"t":302.1},{"s":"d","w":12.879,"t":300.8},{"s":"d","w":12.861,"t":298.5},{"s":"d","w":12.908,"t":303.2},{"s":"d","w":12.898,"t":300.3},{"s":"d","w":12.501,"t":303.2},{"s":"d","w":12.388,"t":304.3}
]
},
"resolve":{"scale":{"color":"independent","shape":"independent"}},
"concat":[
{
 "width":548,"height":362,
 "resolve":{"axis":{"x":"independent","y":"independent"}},
 "layer":[
  {"data":{"name":"tl"},
   "mark":{"type":"point","filled":false,"strokeWidth":1.2,"opacity":1,"size":81,"clip":true},
   "encoding":{
    "x":{"field":"w","type":"quantitative","scale":{"domain":[3.7,4.1],"nice":false,"zero":false},
         "axis":{"values":[3.7,3.8,3.9,4.0],"labels":false,"tickSize":-9,"title":null}},
    "y":{"field":"t","type":"quantitative","scale":{"domain":[280,320],"nice":false,"zero":false},
         "axis":{"values":[280,290,300,310],"tickSize":-9,"labelPadding":22,"title":"Temperature (K)","titleX":-82,"titleY":405,"titleAngle":270,"titleAlign":"center","titleBaseline":"middle"}},
    "color":{"field":"s","type":"nominal","scale":{"domain":["c","d"],"range":["#2a9a2a","#000000"]},
         "legend":{"title":null,"orient":"none","legendX":18,"legendY":258,"symbolSize":81,"symbolStrokeWidth":1.2,"rowPadding":7,"symbolOffset":14,"labelOffset":22,"labelExpr":"datum.label == 'c' ? '\"clear\" in Kansas' : 'thin dust in Kansas'"}},
    "shape":{"field":"s","type":"nominal","scale":{"domain":["c","d"],"range":["circle","triangle-up"]},
         "legend":{"title":null,"orient":"none","legendX":18,"legendY":258,"symbolSize":81,"symbolStrokeWidth":1.2,"rowPadding":7,"symbolOffset":14,"labelOffset":22,"labelExpr":"datum.label == 'c' ? '\"clear\" in Kansas' : 'thin dust in Kansas'"}}
   }},
  {"data":{"values":[{"w":4.0,"t":300}]},
   "mark":{"type":"point","opacity":0},
   "encoding":{
    "x":{"field":"w","type":"quantitative","axis":{"values":[3.70,3.71,3.72,3.73,3.74,3.75,3.76,3.77,3.78,3.79,3.80,3.81,3.82,3.83,3.84,3.85,3.86,3.87,3.88,3.89,3.90,3.91,3.92,3.93,3.94,3.95,3.96,3.97,3.98,3.99,4.00,4.01,4.02,4.03,4.04,4.05,4.06,4.07,4.08,4.09],"labels":false,"tickSize":-5,"title":null}},
    "y":{"field":"t","type":"quantitative","axis":{"values":[281,282,283,284,285,286,287,288,289,291,292,293,294,295,296,297,298,299,301,302,303,304,305,306,307,308,309,311,312,313,314,315,316,317,318,319],"labels":false,"tickSize":-5,"title":null}}
   }}
 ]
},
{
 "width":546,"height":362,
 "resolve":{"axis":{"x":"independent","y":"independent"}},
 "layer":[
  {"data":{"name":"tr"},
   "mark":{"type":"point","filled":false,"strokeWidth":1.2,"opacity":1,"size":81,"clip":true},
   "encoding":{
    "x":{"field":"w","type":"quantitative","scale":{"domain":[7.773,12.936],"nice":false,"zero":false},
         "axis":{"values":[8,9,10,11,12],"labels":false,"tickSize":-9,"title":null}},
    "y":{"field":"t","type":"quantitative","scale":{"domain":[280,320],"nice":false,"zero":false},
         "axis":{"values":[280,290,300,310],"labels":false,"tickSize":-9,"title":null}},
    "color":{"field":"s","type":"nominal","scale":{"domain":["c","d"],"range":["#2a9a2a","#000000"]},"legend":null},
    "shape":{"field":"s","type":"nominal","scale":{"domain":["c","d"],"range":["circle","triangle-up"]},"legend":null}
   }},
  {"data":{"values":[{"w":10.0,"t":300}]},
   "mark":{"type":"point","opacity":0},
   "encoding":{
    "x":{"field":"w","type":"quantitative","axis":{"values":[7.8,7.9,8.1,8.2,8.3,8.4,8.5,8.6,8.7,8.8,8.9,9.1,9.2,9.3,9.4,9.5,9.6,9.7,9.8,9.9,10.1,10.2,10.3,10.4,10.5,10.6,10.7,10.8,10.9,11.1,11.2,11.3,11.4,11.5,11.6,11.7,11.8,11.9,12.1,12.2,12.3,12.4,12.5,12.6,12.7,12.8,12.9],"labels":false,"tickSize":-5,"title":null}},
    "y":{"field":"t","type":"quantitative","axis":{"values":[281,282,283,284,285,286,287,288,289,291,292,293,294,295,296,297,298,299,301,302,303,304,305,306,307,308,309,311,312,313,314,315,316,317,318,319],"labels":false,"tickSize":-5,"title":null}}
   }},
  {"data":{"values":[{"w":11.352,"t":291.8}]},
   "mark":{"type":"point","shape":"M-1,0A1,0.17,0,0,1,1,0A1,0.17,0,0,1,-1,0Z","size":31329,"filled":false,"stroke":"#bb5a2e","strokeWidth":1.5,"opacity":1},
   "encoding":{"x":{"field":"w","type":"quantitative","axis":null},"y":{"field":"t","type":"quantitative","axis":null}}},
  {"data":{"values":[{"w":11.272,"t":288.7,"l":"u"}]},
   "mark":{"type":"text","font":"Liberation Sans","fontSize":24,"color":"#000","baseline":"middle","align":"center"},
   "encoding":{"x":{"field":"w","type":"quantitative","axis":null},"y":{"field":"t","type":"quantitative","axis":null},"text":{"field":"l"}}}
 ]
},
{
 "width":548,"height":363,
 "resolve":{"axis":{"x":"independent","y":"independent"}},
 "layer":[
  {"data":{"name":"bl"},
   "mark":{"type":"point","filled":true,"opacity":1,"size":81,"clip":true},
   "encoding":{
    "x":{"field":"w","type":"quantitative","scale":{"domain":[3.7,4.1],"nice":false,"zero":false},
         "axis":{"values":[3.7,3.8,3.9,4.0],"format":".1f","tickSize":-9,"labelPadding":18,"title":"Wavelength (micrometers)","titleX":588,"titleY":73,"titleAlign":"center","titleBaseline":"alphabetic"}},
    "y":{"field":"t","type":"quantitative","scale":{"domain":[295,335],"nice":false,"zero":false},
         "axis":{"values":[300,310,320,330],"tickSize":-9,"labelPadding":22,"title":null}},
    "color":{"field":"s","type":"nominal","scale":{"domain":["c","d"],"range":["#0b3f7c","#1a8cf0"]},
         "legend":{"title":null,"orient":"none","legendX":48,"legendY":250,"symbolSize":81,"rowPadding":12,"symbolOffset":9,"labelOffset":20,"labelExpr":"datum.label == 'c' ? '\"clear\" in Iraq' : 'thick dust in Iraq'"}},
    "shape":{"field":"s","type":"nominal","scale":{"domain":["c","d"],"range":["M-1.2,-0.2H-0.2V-1.2H0.2V-0.2H1.2V0.2H0.2V1.2H-0.2V0.2H-1.2Z","square"]},
         "legend":{"title":null,"orient":"none","legendX":48,"legendY":250,"symbolSize":81,"rowPadding":12,"symbolOffset":9,"labelOffset":20,"labelExpr":"datum.label == 'c' ? '\"clear\" in Iraq' : 'thick dust in Iraq'"}}
   }},
  {"data":{"values":[{"w":4.0,"t":310}]},
   "mark":{"type":"point","opacity":0},
   "encoding":{
    "x":{"field":"w","type":"quantitative","axis":{"values":[3.70,3.71,3.72,3.73,3.74,3.75,3.76,3.77,3.78,3.79,3.80,3.81,3.82,3.83,3.84,3.85,3.86,3.87,3.88,3.89,3.90,3.91,3.92,3.93,3.94,3.95,3.96,3.97,3.98,3.99,4.00,4.01,4.02,4.03,4.04,4.05,4.06,4.07,4.08,4.09],"labels":false,"tickSize":-5,"title":null}},
    "y":{"field":"t","type":"quantitative","axis":{"values":[296,297,298,299,301,302,303,304,305,306,307,308,309,311,312,313,314,315,316,317,318,319,321,322,323,324,325,326,327,328,329,331,332,333,334],"labels":false,"tickSize":-5,"title":null}}
   }}
 ]
},
{
 "width":546,"height":363,
 "resolve":{"axis":{"x":"independent","y":"independent"}},
 "layer":[
  {"data":{"name":"br"},
   "mark":{"type":"point","filled":true,"opacity":1,"size":81,"clip":true},
   "encoding":{
    "x":{"field":"w","type":"quantitative","scale":{"domain":[7.773,12.936],"nice":false,"zero":false},
         "axis":{"values":[8,9,10,11,12],"format":".1f","tickSize":-9,"labelPadding":18,"title":null}},
    "y":{"field":"t","type":"quantitative","scale":{"domain":[295,335],"nice":false,"zero":false},
         "axis":{"values":[300,310,320,330],"labels":false,"tickSize":-9,"title":null}},
    "color":{"field":"s","type":"nominal","scale":{"domain":["c","d"],"range":["#0b3f7c","#1a8cf0"]},"legend":null},
    "shape":{"field":"s","type":"nominal","scale":{"domain":["c","d"],"range":["M-1.2,-0.2H-0.2V-1.2H0.2V-0.2H1.2V0.2H0.2V1.2H-0.2V0.2H-1.2Z","square"]},"legend":null}
   }},
  {"data":{"values":[{"w":10.0,"t":310}]},
   "mark":{"type":"point","opacity":0},
   "encoding":{
    "x":{"field":"w","type":"quantitative","axis":{"values":[7.8,7.9,8.1,8.2,8.3,8.4,8.5,8.6,8.7,8.8,8.9,9.1,9.2,9.3,9.4,9.5,9.6,9.7,9.8,9.9,10.1,10.2,10.3,10.4,10.5,10.6,10.7,10.8,10.9,11.1,11.2,11.3,11.4,11.5,11.6,11.7,11.8,11.9,12.1,12.2,12.3,12.4,12.5,12.6,12.7,12.8,12.9],"labels":false,"tickSize":-5,"title":null}},
    "y":{"field":"t","type":"quantitative","axis":{"values":[296,297,298,299,301,302,303,304,305,306,307,308,309,311,312,313,314,315,316,317,318,319,321,322,323,324,325,326,327,328,329,331,332,333,334],"labels":false,"tickSize":-5,"title":null}}
   }},
  {"data":{"values":[{"w":11.258,"t":299.2}]},
   "mark":{"type":"point","shape":"M-1,0A1,0.113,0,0,1,1,0A1,0.113,0,0,1,-1,0Z","size":31329,"filled":false,"stroke":"#bb5a2e","strokeWidth":1.5,"opacity":1},
   "encoding":{"x":{"field":"w","type":"quantitative","axis":null},"y":{"field":"t","type":"quantitative","axis":null}}},
  {"data":{"values":[{"w":12.095,"t":297.2,"l":"v"}]},
   "mark":{"type":"text","font":"Liberation Sans","fontSize":24,"color":"#000","baseline":"middle","align":"center"},
   "encoding":{"x":{"field":"w","type":"quantitative","axis":null},"y":{"field":"t","type":"quantitative","axis":null},"text":{"field":"l"}}}
 ]
}
],
"columns":2,
"spacing":0,
"bounds":"flush"
}
